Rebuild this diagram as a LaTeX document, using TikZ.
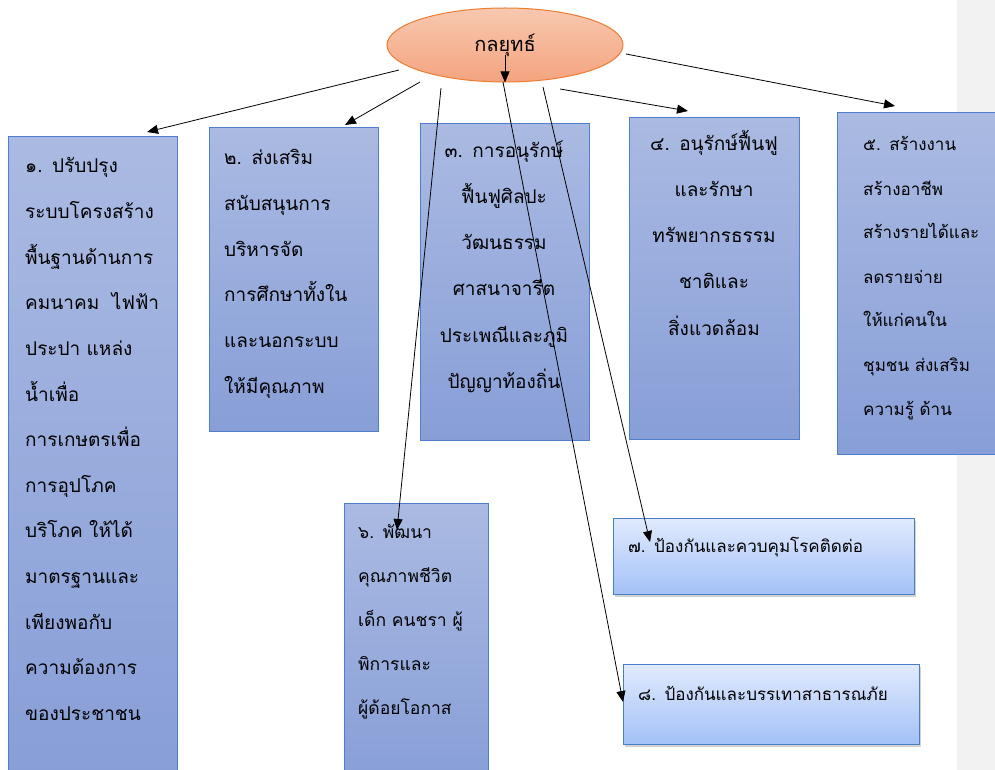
\documentclass[tikz,border=0pt]{standalone}
\usepackage{fontspec}
\newfontfamily\thaifont[Script=Thai]{Loma}
\usetikzlibrary{shapes.geometric,shadows,arrows.meta}

\newlength{\du}
\setlength{\du}{1pt}

\definecolor{boxtop}{HTML}{AABAE2}
\definecolor{boxbottom}{HTML}{879ED7}
\definecolor{boxline}{HTML}{4F7FCC}
\definecolor{lighttop}{HTML}{E0EAFD}
\definecolor{lightbottom}{HTML}{A3C1F7}
\definecolor{lightline}{HTML}{4A7EC4}
\definecolor{goaltop}{HTML}{F8C8B0}
\definecolor{goalbottom}{HTML}{F4A47F}
\definecolor{goalline}{HTML}{ED7D31}
\definecolor{marginband}{HTML}{F2F2F2}

\tikzset{
  planbox/.style={draw=boxline, line width=1\du, top color=boxtop, bottom color=boxbottom,
    anchor=north west, inner sep=0pt},
  lightbox/.style={draw=lightline, line width=1\du, top color=lighttop, bottom color=lightbottom,
    anchor=north west, inner sep=0pt,
    drop shadow={shadow xshift=1.5pt, shadow yshift=-2pt, opacity=0.35}},
  plantext/.style={inner sep=0pt, text width=#1, align=left, anchor=base west,
    font=\thaifont\fontsize{19}{45.6}\selectfont},
  centretext/.style={inner sep=0pt, text width=#1, align=center, anchor=base,
    font=\thaifont\fontsize{19}{46}\selectfont},
  link/.style={line width=0.8\du, -{Triangle[length=11pt,width=9pt]}}
}

\begin{document}
\begin{tikzpicture}
\pgftransformxscale{1.000000}
\pgftransformyscale{-1.000000}
\useasboundingbox (0\du,0\du) rectangle (995\du,770\du);
\clip (0\du,0\du) rectangle (995\du,770\du);
\fill[white] (0\du,0\du) rectangle (995\du,770\du);
\fill[marginband] (957\du,0\du) rectangle (995\du,770\du);
% goal
\node[ellipse, draw=goalline, line width=1\du, top color=goaltop, bottom color=goalbottom,
  minimum width=236\du, minimum height=74\du, inner sep=0pt,
  font=\thaifont\fontsize{20}{24}\selectfont] (goal) at (505\du,45\du) {กลยุทธ์};
% boxes
\node[planbox, minimum width=169\du, minimum height=640\du] (b1) at (8\du,136\du) {};
\node[planbox, minimum width=169\du, minimum height=304\du] (b2) at (209\du,127\du) {};
\node[planbox, minimum width=169\du, minimum height=317\du] (b3) at (420\du,123\du) {};
\node[planbox, minimum width=170\du, minimum height=322\du] (b4) at (629\du,117\du) {};
\node[planbox, minimum width=170\du, minimum height=342\du] (b5) at (837\du,112\du) {};
\node[planbox, minimum width=144\du, minimum height=280\du] (b6) at (344\du,503\du) {};
\node[lightbox, minimum width=301\du, minimum height=76\du] (b7) at (613\du,518\du) {};
\node[lightbox, minimum width=296\du, minimum height=80\du] (b8) at (623\du,664\du) {};
% setfont left to latex
\node[plantext=140\du] (t1) at (25\du,173\du) {๑. ปรับปรุง\\ระบบโครงสร้าง\\พื้นฐานด้านการ\\คมนาคม~ ไฟฟ้า\\ประปา แหล่ง\\น้ำเพื่อ\\การเกษตรเพื่อ\\การอุปโภค\\บริโภค ให้ได้\\มาตรฐานและ\\เพียงพอกับ\\ความต้องการ\\ของประชาชน};
\node[plantext=135\du] (t2) at (224\du,165\du) {๒. ส่งเสริม\\สนับสนุนการ\\บริหารจัด\\การศึกษาทั้งใน\\และนอกระบบ\\ให้มีคุณภาพ};
\node[centretext=140\du] (t3) at (504\du,158\du) {๓. การอนุรักษ์\\ฟื้นฟูศิลปะ\\วัฒนธรรม\\ศาสนาจารีต\\ประเพณีและภูมิ\\ปัญญาท้องถิ่น};
\node[centretext=140\du] (t4) at (714\du,151\du) {๔. อนุรักษ์ฟื้นฟู\\และรักษา\\ทรัพยากรธรรม\\ชาติและ\\สิ่งแวดล้อม};
\node[plantext=120\du, font=\thaifont\fontsize{17}{44}\selectfont] (t5) at (863\du,151\du) {๕. สร้างงาน\\สร้างอาชีพ\\สร้างรายได้และ\\ลดรายจ่าย\\ให้แก่คนใน\\ชุมชน ส่งเสริม\\ความรู้ ด้าน};
\node[plantext=115\du, font=\thaifont\fontsize{17.5}{44}\selectfont] (t6) at (358\du,538\du) {๖. พัฒนา\\คุณภาพชีวิต\\เด็ก คนชรา ผู้\\พิการและ\\ผู้ด้อยโอกาส};
\node[plantext=250\du, font=\thaifont\fontsize{17}{20}\selectfont] (t7) at (628\du,552\du) {๗. ป้องกันและควบคุมโรคติดต่อ};
\node[plantext=255\du, font=\thaifont\fontsize{17}{20}\selectfont] (t8) at (638\du,700\du) {๘. ป้องกันและบรรเทาสาธารณภัย};
% connectors
\coordinate (s1) at (399\du,70\du);
\coordinate (e1) at (147\du,132\du);
\coordinate (s2) at (420\du,82\du);
\coordinate (e2) at (345\du,125\du);
\coordinate (s3) at (441\du,88\du);
\coordinate (e3) at (397\du,530\du);
\coordinate (s4) at (503\du,82\du);
\coordinate (e4) at (623\du,702\du);
\coordinate (s5) at (543\du,87\du);
\coordinate (e5) at (650\du,542\du);
\coordinate (s6) at (560\du,89\du);
\coordinate (e6) at (688\du,111\du);
\coordinate (s7) at (626\du,54\du);
\coordinate (e7) at (895\du,106\du);
\coordinate (s8) at (505\du,55\du);
\draw[link] (s1)--(e1);
\draw[link] (s2)--(e2);
\draw[link] (s3)--(e3);
\draw[link] (s4)--(e4);
\draw[link] (s5)--(e5);
\draw[link] (s6)--(e6);
\draw[link] (s7)--(e7);
\draw[link] (s8)--(goal.south);
\end{tikzpicture}
\end{document}
